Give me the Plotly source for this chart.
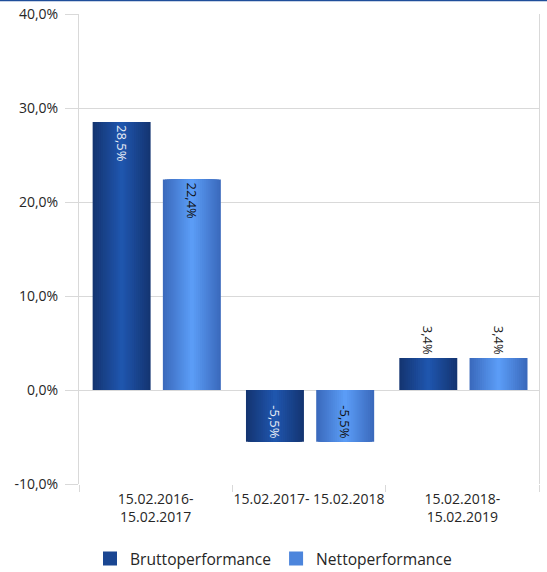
import plotly.graph_objects as go

# Performance periods and returns (in %)
periods = ["15.02.2016-<br>15.02.2017", "15.02.2017- 15.02.2018", "15.02.2018-<br>15.02.2019"]
brutto = [28.5, -5.5, 3.4]
netto = [22.4, -5.5, 3.4]
y_ticks = [-10, 0, 10, 20, 30, 40]
y_tick_labels = [f"{v:.1f}%".replace(".", ",") for v in y_ticks]

FONT = "Open Sans"
BAR_W = 0.378
N_LAYERS = 14


def lerp_color(c1, c2, t):
    a = [int(c1[i:i + 2], 16) for i in (1, 3, 5)]
    b = [int(c2[i:i + 2], 16) for i in (1, 3, 5)]
    return "rgb(%d,%d,%d)" % tuple(round(a[i] + (b[i] - a[i]) * t) for i in range(3))


series = [
    dict(name="Bruttoperformance", values=brutto, center=-0.222,
         edge="#143572", mid="#2058b2", text_color="#e8ecf5"),
    dict(name="Nettoperformance", values=netto, center=0.236,
         edge="#3b6abd", mid="#5da0fa", text_color="#111111"),
]

fig = go.Figure()

for s in series:
    # stacked overlay of narrowing bars gives a horizontal gradient (dark edges, light middle)
    for k in range(N_LAYERS):
        frac = 1 - k / N_LAYERS
        w = BAR_W * frac
        fig.add_trace(go.Bar(
            x=periods, y=s["values"], width=w, offset=s["center"] - w / 2,
            marker=dict(color=lerp_color(s["mid"], s["edge"], frac), line=dict(width=0)),
            name=s["name"], legendgroup=s["name"], showlegend=False, hoverinfo="skip",
        ))
    # transparent bar on top that carries the value labels
    positions = ["inside" if abs(v) >= 5 else "outside" for v in s["values"]]
    labels = [f"{v:.1f}%".replace(".", ",") for v in s["values"]]
    fig.add_trace(go.Bar(
        x=periods, y=s["values"], width=BAR_W, offset=s["center"] - BAR_W / 2,
        marker=dict(color="rgba(0,0,0,0)", line=dict(width=0)),
        text=labels, textposition=positions, textangle=90,
        insidetextanchor="end", constraintext="none",
        insidetextfont=dict(family=FONT, size=13, color=s["text_color"]),
        outsidetextfont=dict(family=FONT, size=13, color="#222222"),
        showlegend=False, legendgroup=s["name"], cliponaxis=False,
    ))
    # legend entry with a larger swatch
    mid_col = lerp_color(s["mid"], s["edge"], 0.5)
    fig.add_trace(go.Bar(
        x=[periods[0]], y=[None], name=s["name"], legendgroup=s["name"],
        marker=dict(color=mid_col, line=dict(color=mid_col, width=5)),
        showlegend=True, hoverinfo="skip",
    ))

fig.update_layout(
    width=547, height=572,
    margin=dict(l=79, r=8, t=14, b=88, autoexpand=False),
    barmode="overlay",
    paper_bgcolor="white", plot_bgcolor="white",
    font=dict(family=FONT, size=14, color="#262626"),
    showlegend=True,
    legend=dict(orientation="h", xref="container", x=0.5, xanchor="center",
                y=-0.123, yanchor="top",
                font=dict(family=FONT, size=15.6, color="#262626"),
                traceorder="normal", itemsizing="constant"),
    xaxis=dict(
        type="category", tickson="boundaries", ticks="outside", ticklen=7,
        tickcolor="#d9d9d9", showgrid=False, showline=False, tickangle=0,
        automargin=False, ticklabelstandoff=5,
        tickfont=dict(family=FONT, size=14, color="#262626"),
    ),
    yaxis=dict(
        range=[-10, 40], tickvals=y_ticks, ticktext=y_tick_labels,
        ticks="outside", ticklen=13, tickcolor="#d9d9d9", automargin=False,
        ticklabelstandoff=4,
        showgrid=True, gridcolor="#d9d9d9", gridwidth=1,
        showline=True, linecolor="#d9d9d9", linewidth=1, mirror=True,
        zeroline=False, tickfont=dict(family=FONT, size=14, color="#262626"),
    ),
    shapes=[dict(type="line", xref="paper", yref="paper", x0=-0.2, x1=1.1,
                 y0=1.029, y1=1.029, line=dict(color="#1f4e9a", width=2))],
)

fig.write_html("out.html")
